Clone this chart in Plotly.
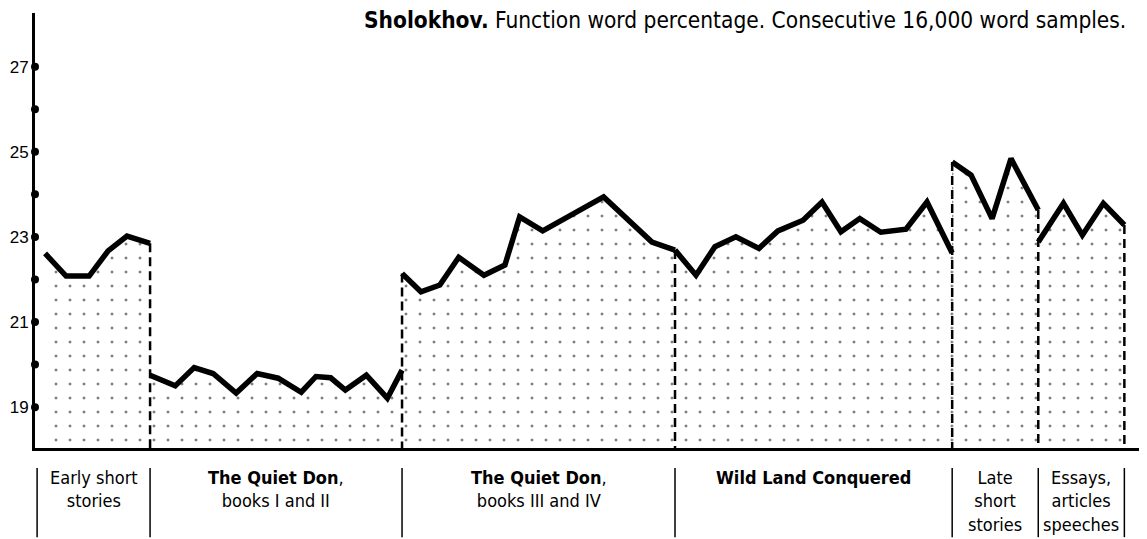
import plotly.graph_objects as go

# ---- data (sample position along the text, function-word percentage) ----
early_x = [0.0, 1.0, 2.1, 3.0, 3.9, 5.0]
early_y = [22.61, 22.08, 22.08, 22.67, 23.02, 22.85]

qd12_x = [5.0, 6.2, 7.1, 8.0, 9.1, 10.1, 11.1, 12.2, 12.9, 13.6, 14.3, 15.3, 16.3, 17.0]
qd12_y = [19.75, 19.50, 19.93, 19.79, 19.33, 19.79, 19.68, 19.35, 19.72, 19.69, 19.40, 19.75, 19.21, 19.87]

qd34_x = [17.0, 17.9, 18.8, 19.7, 20.9, 21.9, 22.6, 23.7, 26.6, 28.9, 30.0]
qd34_y = [22.14, 21.71, 21.87, 22.52, 22.10, 22.34, 23.47, 23.14, 23.94, 22.88, 22.69]

wild_x = [30.0, 31.0, 31.9, 32.9, 34.0, 34.9, 36.1, 37.0, 37.9, 38.8, 39.8, 41.0, 42.0, 43.2]
wild_y = [22.69, 22.10, 22.77, 23.00, 22.73, 23.14, 23.39, 23.82, 23.12, 23.43, 23.11, 23.18, 23.82, 22.62]

late_x = [43.2, 44.1, 45.1, 46.0, 47.3]
late_y = [24.76, 24.45, 23.43, 24.84, 23.63]

essay_x = [47.3, 48.5, 49.4, 50.4, 51.4]
essay_y = [22.88, 23.79, 23.04, 23.79, 23.28]

segment_labels = [
    "Early short<br>stories",
    "<b>The Quiet Don</b>,<br>books I and II",
    "<b>The Quiet Don</b>,<br>books III and IV",
    "<b>Wild Land Conquered</b>",
    "Late<br>short<br>stories",
    "Essays,<br>articles<br>speeches",
]
y_tick_vals = [19, 21, 23, 25, 27]
y_dot_vals = [18, 19, 20, 21, 22, 23, 24, 25, 26, 27]
title_text = "<b>Sholokhov.</b> Function word percentage. Consecutive 16,000 word samples."

# ---- figure ----
X_RANGE = [-0.48, 52.24]
Y_RANGE = [18.04, 28.26]
FONT = "DejaVu Sans Condensed, Liberation Sans Narrow, Arial Narrow, sans-serif"
TICK_FONT = "Liberation Sans, Arial, sans-serif"

segments = [(early_x, early_y), (qd12_x, qd12_y), (qd34_x, qd34_y),
            (wild_x, wild_y), (late_x, late_y), (essay_x, essay_y)]

fig = go.Figure()

# stippled fills
for sx, sy in segments:
    fig.add_trace(go.Scatter(
        x=sx, y=sy, mode="none", fill="tozeroy", fillcolor="white",
        fillpattern=dict(shape=".", size=14, solidity=0.036, fgcolor="black", bgcolor="white"),
        hoverinfo="skip", showlegend=False))

# dashed vertical separators at segment boundaries
for i in range(len(segments)):
    sx, sy = segments[i]
    bx = sx[-1]
    top = sy[-1]
    if i + 1 < len(segments):
        top = max(top, segments[i + 1][1][0])
    fig.add_trace(go.Scatter(
        x=[bx, bx], y=[top, Y_RANGE[0]], mode="lines",
        line=dict(color="black", width=2.5, dash="9px,5px"),
        hoverinfo="skip", showlegend=False))

# thick data lines
for sx, sy in segments:
    fig.add_trace(go.Scatter(
        x=sx, y=sy, mode="lines",
        line=dict(color="black", width=5.5, shape="linear"),
        hoverinfo="skip", showlegend=False))

# dots on the y axis
fig.add_trace(go.Scatter(
    x=[X_RANGE[0]] * len(y_dot_vals), y=y_dot_vals, mode="markers",
    marker=dict(color="black", size=8), cliponaxis=False,
    hoverinfo="skip", showlegend=False))

# label separators and labels below the chart
bounds = [X_RANGE[0] + 0.1] + [s[0][-1] for s in segments]
for b in bounds:
    fig.add_shape(type="line", xref="x", yref="paper", x0=b, x1=b,
                  y0=-0.046, y1=-0.205, line=dict(color="black", width=1.5))
for i, lab in enumerate(segment_labels):
    fig.add_annotation(x=(bounds[i] + bounds[i + 1]) / 2, y=-0.038, xref="x", yref="paper",
                       text=lab, showarrow=False, xanchor="center", yanchor="top",
                       align="center", font=dict(family=FONT, size=18, color="black"))

fig.add_annotation(x=0.987, y=0.983, xref="paper", yref="paper", text=title_text,
                   showarrow=False, xanchor="right", yanchor="middle",
                   font=dict(family=FONT, size=22.5, color="black"))

# the page adds an 8px body margin, so the figure is 8px smaller and shifted margins
fig.update_layout(
    width=1139, height=531,
    margin=dict(l=27, r=5, t=5, b=91),
    paper_bgcolor="white", plot_bgcolor="white",
    font=dict(family=FONT, color="black"),
    xaxis=dict(range=X_RANGE, showgrid=False, zeroline=False, showticklabels=False,
               ticks="", showline=True, linecolor="black", linewidth=2.5,
               fixedrange=True, automargin=False),
    yaxis=dict(range=Y_RANGE, showgrid=False, zeroline=False, tickvals=y_tick_vals,
               ticks="", ticklen=0, ticklabelstandoff=0,
               tickfont=dict(family=TICK_FONT, size=17, color="black"),
               showline=True, linecolor="black", linewidth=3, fixedrange=True,
               automargin=False),
    showlegend=False,
)

fig.write_html("out.html")
